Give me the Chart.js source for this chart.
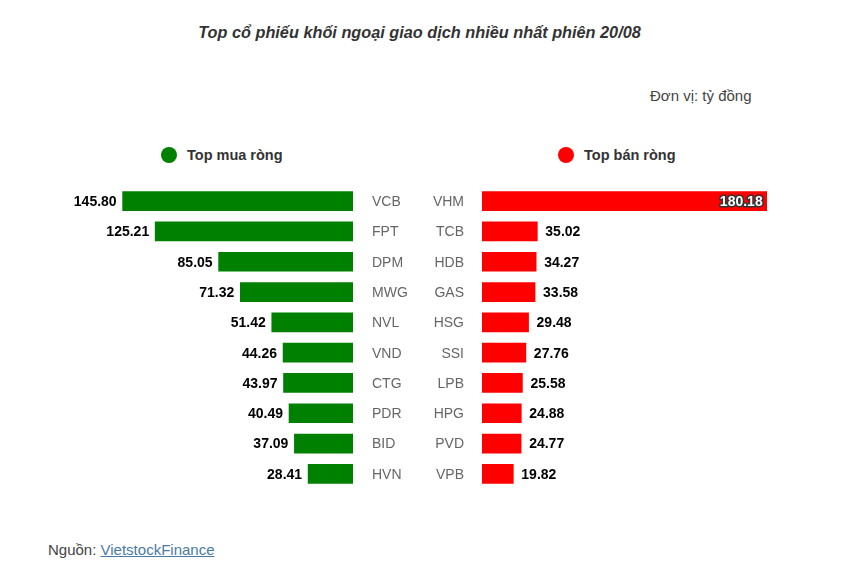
<!DOCTYPE html>
<html>
<head>
<meta charset="utf-8">
<script src="https://cdn.jsdelivr.net/npm/chart.js@4"></script>
<style>
  body { margin: 0; background: #fff; font-family: Arial, "Liberation Sans", sans-serif; }
  #wrap { position: relative; width: 843px; height: 578px; overflow: hidden; }
  .abs { position: absolute; white-space: nowrap; }
  #title { left: -2px; width: 843px; top: 23px; text-align: center; font-size: 16.3px; font-weight: bold; font-style: italic; color: #333; }
  #unit { left: 650px; top: 87px; font-size: 15px; color: #444; }
  .leg { top: 147px; font-size: 14.5px; font-weight: bold; color: #333; }
  .dot { display: inline-block; width: 16px; height: 16px; border-radius: 50%; vertical-align: -3px; margin-right: 10px; }
  #src { left: 48px; top: 541px; font-size: 15px; color: #444; }
  #src a { color: #4a7aa6; text-decoration: underline; }
  canvas { position: absolute; }
</style>
</head>
<body>
<div id="wrap">
  <div id="title" class="abs">Top cổ phiếu khối ngoại giao dịch nhiều nhất phiên 20/08</div>
  <div id="unit" class="abs">Đơn vị: tỷ đồng</div>
  <div class="abs leg" style="left:161px"><span class="dot" style="background:#008000"></span>Top mua ròng</div>
  <div class="abs leg" style="left:558px"><span class="dot" style="background:#ff0000"></span>Top bán ròng</div>
  <canvas id="buyChart" width="420" height="315" style="left:0;top:180px"></canvas>
  <canvas id="sellChart" width="423" height="315" style="left:420px;top:180px"></canvas>
  <div id="src" class="abs">Nguồn: <a href="#">VietstockFinance</a></div>
</div>
<script>
const buyLabels = ['VCB', 'FPT', 'DPM', 'MWG', 'NVL', 'VND', 'CTG', 'PDR', 'BID', 'HVN'];
const buyValues = [145.80, 125.21, 85.05, 71.32, 51.42, 44.26, 43.97, 40.49, 37.09, 28.41];
const sellLabels = ['VHM', 'TCB', 'HDB', 'GAS', 'HSG', 'SSI', 'LPB', 'HPG', 'PVD', 'VPB'];
const sellValues = [180.18, 35.02, 34.27, 33.58, 29.48, 27.76, 25.58, 24.88, 24.77, 19.82];
const axisMax = 200;

const FONT = 'Arial, "Liberation Sans", sans-serif';

// category names beside the axis line + the number next to each bar
const barLabels = {
  id: 'barLabels',
  afterDatasetsDraw(chart) {
    const ctx = chart.ctx;
    const side = chart.options.plugins.barLabels.side;
    const area = chart.chartArea;
    const yScale = chart.scales.y;
    const ds = chart.data.datasets[0];
    ctx.save();
    ctx.textBaseline = 'middle';

    // category names
    ctx.font = '14px ' + FONT;
    ctx.fillStyle = '#666';
    chart.data.labels.forEach((lab, i) => {
      const y = yScale.getPixelForValue(i);
      if (side === 'left') {
        ctx.textAlign = 'left';
        ctx.fillText(lab, area.right + 19, y + 1);
      } else {
        ctx.textAlign = 'right';
        ctx.fillText(lab, area.left - 18, y + 1);
      }
    });

    // values
    ctx.font = 'bold 14px ' + FONT;
    chart.getDatasetMeta(0).data.forEach((bar, i) => {
      const txt = ds.data[i].toFixed(2);
      const w = ctx.measureText(txt).width;
      if (side === 'left') {
        ctx.textAlign = 'right';
        ctx.fillStyle = '#000';
        ctx.fillText(txt, bar.x - 6, bar.y + 1);
      } else if (bar.x + 8 + w > area.right) {
        ctx.textAlign = 'right';
        ctx.lineWidth = 3;
        ctx.strokeStyle = '#333';
        ctx.lineJoin = 'round';
        ctx.strokeText(txt, bar.x - 4, bar.y + 1);
        ctx.fillStyle = '#fff';
        ctx.fillText(txt, bar.x - 4, bar.y + 1);
      } else {
        ctx.textAlign = 'left';
        ctx.fillStyle = '#000';
        ctx.fillText(txt, bar.x + 8, bar.y + 1);
      }
    });
    ctx.restore();
  }
};

function makeChart(id, labels, values, color, side) {
  const left = side === 'left';
  return new Chart(document.getElementById(id), {
    type: 'bar',
    data: {
      labels: labels,
      datasets: [{
        data: values,
        backgroundColor: color,
        barThickness: 19
      }]
    },
    options: {
      indexAxis: 'y',
      responsive: false,
      animation: false,
      layout: {
        padding: left
          ? { left: 37, right: 67, top: 6, bottom: 6 }
          : { left: 62, right: 45, top: 6, bottom: 6 }
      },
      plugins: {
        legend: { display: false },
        tooltip: { enabled: false },
        barLabels: { side: side }
      },
      scales: {
        x: { display: false, min: 0, max: axisMax, reverse: left },
        y: { display: false }
      }
    },
    plugins: [barLabels]
  });
}

makeChart('buyChart', buyLabels, buyValues, '#008000', 'left');
makeChart('sellChart', sellLabels, sellValues, '#ff0000', 'right');
</script>
</body>
</html>
